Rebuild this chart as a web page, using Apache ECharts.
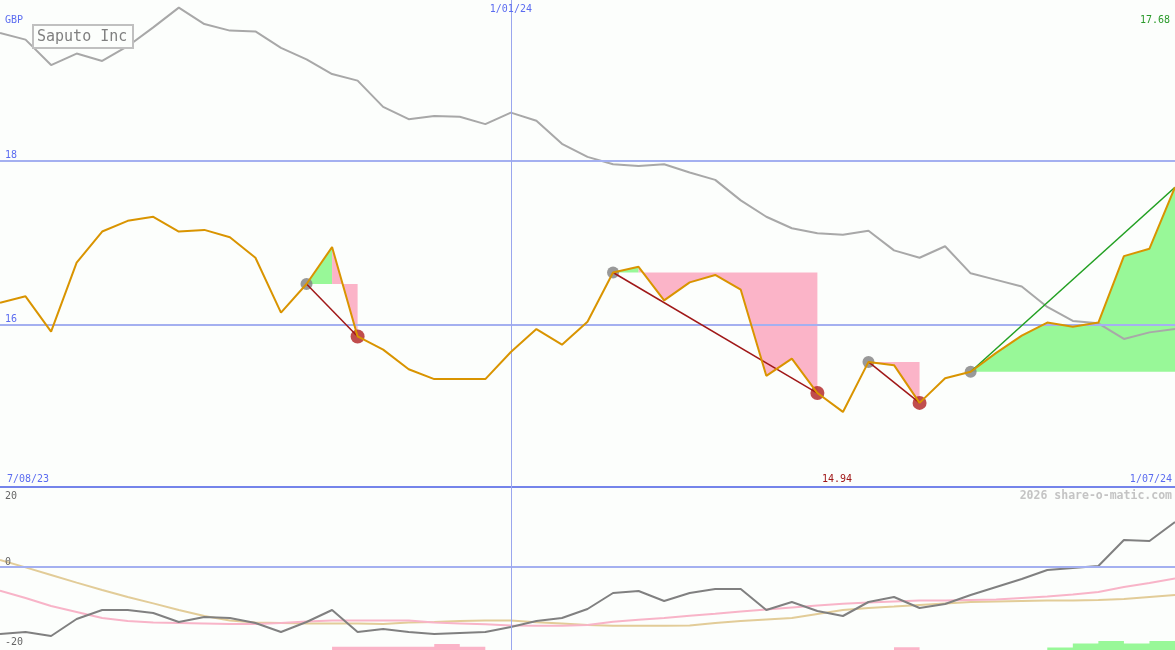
<!DOCTYPE html>
<html><head><meta charset="utf-8">
<script src="https://cdn.jsdelivr.net/npm/echarts@6/dist/echarts.min.js"></script>
<style>html,body{margin:0;padding:0;background:#fcfefc}#c{width:1175px;height:650px}</style>
</head><body><div id="c"></div><script>
// ---------- data ----------
const weeks = ['14/08/23','21/08/23','28/08/23','4/09/23','11/09/23','18/09/23','25/09/23','2/10/23','9/10/23','16/10/23','23/10/23','30/10/23','6/11/23','13/11/23','20/11/23','27/11/23','4/12/23','11/12/23','18/12/23','25/12/23','1/01/24','8/01/24','15/01/24','22/01/24','29/01/24','5/02/24','12/02/24','19/02/24','26/02/24','4/03/24','11/03/24','18/03/24','25/03/24','1/04/24','8/04/24','15/04/24','22/04/24','29/04/24','6/05/24','13/05/24','20/05/24','27/05/24','3/06/24','10/06/24','17/06/24','24/06/24','1/07/24'];
const price = [16.27,16.35,15.92,16.76,17.14,17.27,17.32,17.14,17.16,17.07,16.82,16.15,16.50,16.95,15.86,15.70,15.46,15.34,15.34,15.34,15.67,15.95,15.76,16.04,16.64,16.71,16.30,16.52,16.61,16.43,15.38,15.59,15.17,14.94,15.55,15.51,15.05,15.35,15.43,15.66,15.87,16.03,15.98,16.03,16.84,16.93,17.68];
const compare = [19.56,19.48,19.17,19.31,19.22,19.40,19.63,19.87,19.67,19.59,19.58,19.38,19.24,19.06,18.98,18.66,18.51,18.55,18.54,18.45,18.59,18.49,18.21,18.05,17.96,17.94,17.96,17.86,17.77,17.52,17.32,17.18,17.12,17.10,17.15,16.91,16.82,16.96,16.63,16.55,16.47,16.22,16.05,16.02,15.83,15.91,15.95];
const momentum = [-16.75,-16.25,-17.25,-13,-10.75,-10.75,-11.5,-13.75,-12.5,-12.75,-14,-16.25,-13.75,-10.75,-16.25,-15.5,-16.25,-16.75,-16.5,-16.25,-15,-13.5,-12.75,-10.5,-6.5,-6,-8.5,-6.5,-5.5,-5.5,-10.75,-8.75,-11,-12.25,-8.75,-7.5,-10.25,-9.25,-7,-5,-3,-0.75,-0.25,0.25,6.75,6.5,11.25];
const avgFast = [-5.9,-7.75,-9.75,-11.25,-12.75,-13.5,-13.9,-14,-14.1,-14.25,-14.25,-14,-13.6,-13.4,-13.4,-13.4,-13.4,-13.9,-14.1,-14.3,-14.6,-14.7,-14.7,-14.5,-13.7,-13.2,-12.75,-12.2,-11.7,-11.1,-10.6,-10.1,-9.6,-9.2,-8.9,-8.6,-8.4,-8.4,-8.25,-8.1,-7.75,-7.4,-6.9,-6.25,-5,-4,-2.9];
const avgSlow = [1.75,-0.1,-2,-3.9,-5.75,-7.5,-9.1,-10.75,-12.25,-13.4,-13.9,-14,-14.1,-14.1,-14.1,-14.25,-13.9,-13.75,-13.5,-13.4,-13.4,-13.8,-14.1,-14.5,-14.7,-14.7,-14.7,-14.6,-14,-13.5,-13.1,-12.75,-11.75,-10.75,-10.25,-9.9,-9.5,-9.1,-8.75,-8.6,-8.5,-8.4,-8.4,-8.25,-8,-7.5,-7];
const histDown = [null,null,null,null,null,null,null,null,null,null,null,null,null,0.8,0.8,0.8,0.8,1.5,0.8,0,null,null,null,null,null,null,null,null,null,null,null,null,null,null,null,0.7,0,null,null,null,null,null,null,null,null,null,null];
const histUp = [null,null,null,null,null,null,null,null,null,null,null,null,null,null,null,null,null,null,null,null,null,null,null,null,null,null,null,null,null,null,null,null,null,null,null,null,null,null,null,null,null,0.6,1.6,2.25,1.6,2.25,2.25];
const buyIdx = [12,24,34,38];
const sellIdx = [14,32,36,null];
const priceTicks = [18,16];
const oscTicks = [20,0,-20];
const title = 'Saputo Inc';
const currency = 'GBP';
const startLabel = '7/08/23';
const midLabel = '1/01/24';
const endLabel = '1/07/24';
const watermark = '2026 share-o-matic.com';

// ---------- styles ----------
const BG='#fcfefc', BLUE_TXT='#5b6cf0', GRID_BLUE='#a4b0f0', SEP_BLUE='#7484ea';
const ORANGE='#d99400', GREY_LINE='#a8a8a8', GREEN_FILL='#98f898', PINK_FILL='#fbb4c8';
const TRADE_RED='#a01818', TREND_GREEN='#22a022', MARK_GREY='#808080', MARK_RED='#b02020';
const FONT='"DejaVu Sans Mono", "Liberation Mono", monospace';
const pMin=14.0244, pMax=19.9634;

const chart = echarts.init(document.getElementById('c'), null, {renderer:'canvas'});
const series = [];

// grid lines (upper)
series.push({type:'line', xAxisIndex:0, yAxisIndex:0, data:price, symbol:'none', lineStyle:{opacity:0}, silent:true, z:1,
  markLine:{symbol:['none','none'], silent:true, animation:false, label:{show:false},
    data:[...priceTicks.map(v=>({yAxis:v, lineStyle:{color:GRID_BLUE,width:2,type:'solid'}})),
          {xAxis:midLabel, lineStyle:{color:'#9aa6ee',width:1,type:'solid'}}]}});
// grid lines (lower)
series.push({type:'line', xAxisIndex:1, yAxisIndex:1, data:momentum, symbol:'none', lineStyle:{opacity:0}, silent:true, z:1,
  markLine:{symbol:['none','none'], silent:true, animation:false, label:{show:false},
    data:[{yAxis:0, lineStyle:{color:GRID_BLUE,width:2,type:'solid'}},
          {xAxis:midLabel, lineStyle:{color:'#9aa6ee',width:1,type:'solid'}}]}});

// trade fills
buyIdx.forEach((b,t)=>{
  const end = sellIdx[t]==null ? price.length-1 : sellIdx[t];
  const base = price[b];
  let j=b;
  while(j<end){
    const up = price[j+1] >= base;
    let k=j+1;
    while(k<end && (price[k+1]>=base)===up) k++;
    const data = price.map((v,i)=> (i>=j && i<=k) ? v : null);
    series.push({type:'line', xAxisIndex:0, yAxisIndex:0, data, symbol:'none', silent:true, z:2,
      lineStyle:{width:0, opacity:0}, areaStyle:{color: up?GREEN_FILL:PINK_FILL, opacity:1, origin: base}});
    j=k;
  }
});

// comparison line
series.push({type:'line', xAxisIndex:0, yAxisIndex:0, data:compare, symbol:'none', silent:true, z:3,
  lineStyle:{color:GREY_LINE, width:2}});

// markers
series.push({type:'scatter', xAxisIndex:0, yAxisIndex:0, symbolSize:12, silent:true, z:4,
  itemStyle:{color:MARK_GREY}, data: buyIdx.map(b=>[b, price[b]])});
series.push({type:'scatter', xAxisIndex:0, yAxisIndex:0, symbolSize:14, silent:true, z:4,
  itemStyle:{color:MARK_RED}, data: sellIdx.filter(s=>s!=null).map(s=>[s, price[s]])});

// trade lines
buyIdx.forEach((b,t)=>{
  const s = sellIdx[t];
  const e = s==null ? price.length-1 : s;
  series.push({type:'line', xAxisIndex:0, yAxisIndex:0, data:[[b,price[b]],[e,price[e]]], symbol:'none', silent:true, z:5,
    lineStyle:{color: s==null?TREND_GREEN:TRADE_RED, width:1.5}});
});

// price line
series.push({type:'line', xAxisIndex:0, yAxisIndex:0, data:price, symbol:'none', silent:true, z:6,
  lineStyle:{color:ORANGE, width:2}});

// lower panel
series.push({type:'line', xAxisIndex:1, yAxisIndex:1, data:avgSlow, symbol:'none', silent:true, z:2, lineStyle:{color:'#e2cc98', width:2}});
series.push({type:'line', xAxisIndex:1, yAxisIndex:1, data:avgFast, symbol:'none', silent:true, z:3, lineStyle:{color:'#f8b4c8', width:2}});
series.push({type:'line', xAxisIndex:1, yAxisIndex:1, data:momentum, symbol:'none', silent:true, z:4, lineStyle:{color:'#808080', width:2}});
series.push({type:'line', xAxisIndex:1, yAxisIndex:2, data:histDown, step:'end', symbol:'none', silent:true, z:5,
  lineStyle:{width:0, opacity:0}, areaStyle:{color:PINK_FILL, opacity:1, origin:'start'}});
series.push({type:'line', xAxisIndex:1, yAxisIndex:2, data:histUp, step:'end', symbol:'none', silent:true, z:5,
  lineStyle:{width:0, opacity:0}, areaStyle:{color:GREEN_FILL, opacity:1, origin:'start'}});

chart.setOption({
  animation:false,
  backgroundColor:BG,
  grid:[{left:0,right:0,top:0,height:487},{left:0,right:0,top:487,height:163}],
  xAxis:[
    {type:'category', gridIndex:0, data:weeks, boundaryGap:false, axisTick:{show:false}, axisLabel:{show:false},
     axisLine:{show:true, lineStyle:{color:SEP_BLUE, width:2}}, splitLine:{show:false}},
    {type:'category', gridIndex:1, data:weeks, boundaryGap:false, show:false}
  ],
  yAxis:[
    {type:'value', gridIndex:0, min:pMin, max:pMax, show:false, splitLine:{show:false}},
    {type:'value', gridIndex:1, min:-20.75, max:20, show:false, splitLine:{show:false}},
    {type:'value', gridIndex:1, min:0, max:40.75, show:false, splitLine:{show:false}}
  ],
  series
});

// ---------- texts ----------
const px = (g,x,y)=>chart.convertToPixel({gridIndex:g},[x,y]);
const txt = (text,x,y,fill,opts={})=>({type:'text', z:100, silent:true, x, y,
  style:{text, fill, font:(opts.font||('10px '+FONT)), align:opts.align||'left', verticalAlign:opts.va||'middle'}});
const g = [];
g.push(txt(currency, 5, 20, BLUE_TXT));
priceTicks.forEach(v=>{ const y = px(0,0,v)[1]; g.push(txt(String(v), 5, y-1, BLUE_TXT, {va:'bottom'})); });
const midX = px(0,midLabel,pMax)[0];
g.push(txt(midLabel, midX, 9, BLUE_TXT, {align:'center'}));
const last = price[price.length-1];
g.push(txt(last.toFixed(2), 1170, 20, '#2a9a2a', {align:'right'}));
const sepY = px(0,0,pMin)[1];
g.push(txt(startLabel, 7, sepY-8, BLUE_TXT));
g.push(txt(endLabel, 1172, sepY-8, BLUE_TXT, {align:'right'}));
const minV = Math.min(...price), minI = price.indexOf(minV);
g.push(txt(minV.toFixed(2), px(0,minI,minV)[0]-6, sepY-8, TRADE_RED, {align:'center'}));
g.push(txt(watermark, 1172, sepY+9, '#c4c4c4', {align:'right', font:'bold 11.5px '+FONT}));
oscTicks.forEach(v=>{
  const y = px(1,0,v)[1];
  if (v===oscTicks[0]) g.push(txt(String(v), 5, y+9, '#666666'));
  else g.push(txt(String(v), 5, y-5, '#666666'));
});
// title box
g.push({type:'rect', z:99, silent:true, shape:{x:33,y:25,width:100,height:23}, style:{fill:BG, stroke:'#c0c0c0', lineWidth:2}});
g.push(txt(title, 37, 37, '#808080', {font:'15px '+FONT}));
chart.setOption({graphic:g});
</script></body></html>
